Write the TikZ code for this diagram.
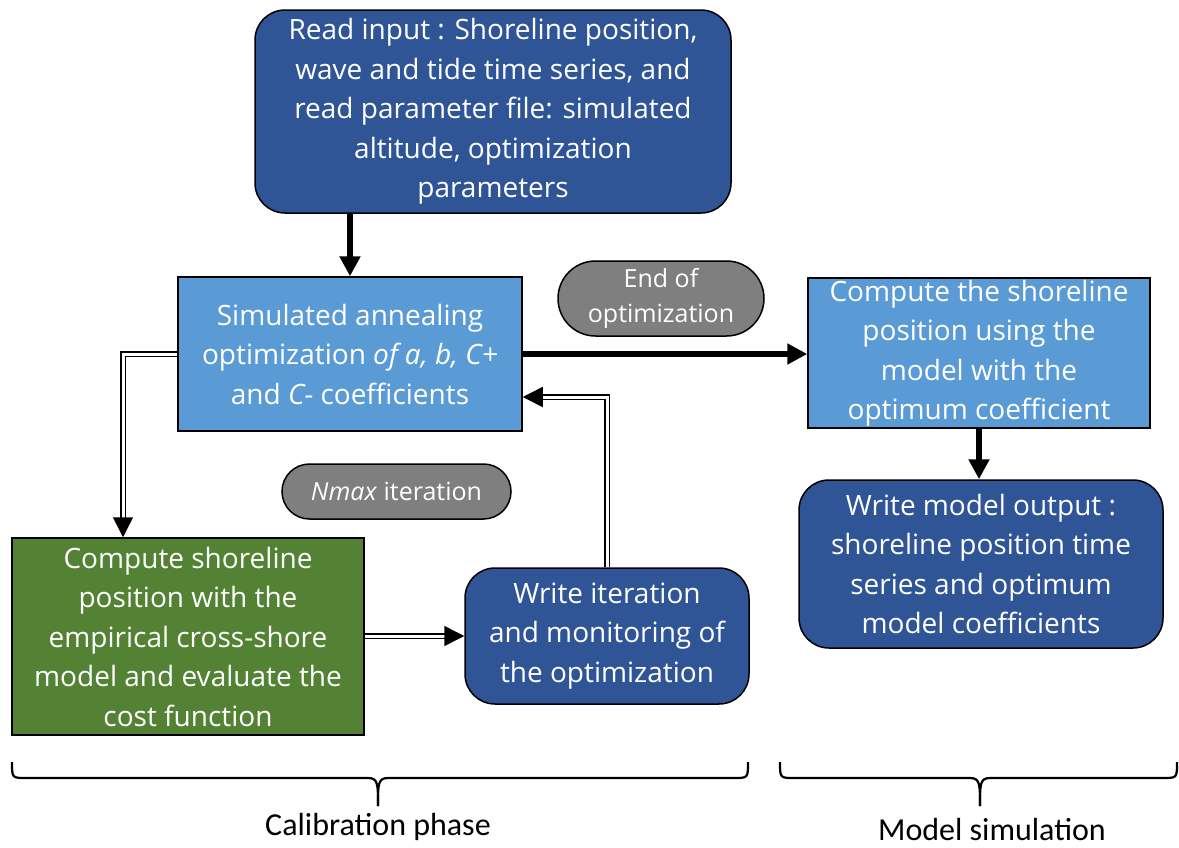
\documentclass[tikz,border=0pt]{standalone}
\usepackage{fontspec}
\setmainfont{Open Sans}
\newfontfamily\labelfont{Carlito}
\usetikzlibrary{positioning,arrows.meta,calc,shapes.misc}
\definecolor{fcdark}{HTML}{2F5597}
\definecolor{fclight}{HTML}{5B9BD5}
\definecolor{fcgreen}{HTML}{548235}
\definecolor{fcgray}{HTML}{7F7F7F}
\tikzset{
  box/.style={draw=black,line width=0.75pt,text=white,align=center,inner sep=0pt,
    font=\fontsize{14pt}{19.75pt}\selectfont},
  darkbox/.style={box,fill=fcdark,rounded corners=15pt},
  lightbox/.style={box,fill=fclight},
  greenbox/.style={box,fill=fcgreen},
  pill/.style={draw=black,line width=0.75pt,fill=fcgray,text=white,align=center,
    inner sep=0pt,rounded rectangle,font=\fontsize{12.5pt}{17.5pt}\selectfont},
  fatarrow/.style={line width=3pt,-{Triangle[length=10pt,width=10pt]}},
  dblarrow/.style={line width=0.75pt,double=white,double distance=1.5pt,
    -{Triangle[length=10pt,width=10pt]}},
  phase/.style={line width=1.1pt},
  phaselabel/.style={font=\labelfont\fontsize{16pt}{19pt}\selectfont}
}
\begin{document}
\begin{tikzpicture}[x=0.5pt,y=-0.5pt]
  \useasboundingbox (0,0) rectangle (1179,847);
  % boxes
  \node[darkbox,minimum width=238pt,minimum height=101.5pt] (readin) at (493,111.5)
    {Read input : Shoreline position,\\ wave and tide time series, and\\ read parameter file: simulated\\ altitude, optimization\\ parameters};
  \node[lightbox,minimum width=172pt,minimum height=77pt] (anneal) at (350,354)
    {Simulated annealing\\ optimization \textit{of a, b, C+}\\ and \textit{C-} coefficients};
  \node[lightbox,minimum width=171pt,minimum height=75pt] (simcomp) at (979,353)
    {Compute the shoreline\\ position using the\\ model with the\\ optimum coefficient};
  \node[darkbox,minimum width=182pt,minimum height=84pt] (output) at (981,564)
    {Write model output :\\ shoreline position time\\ series and optimum\\ model coefficients};
  \node[greenbox,minimum width=176pt,minimum height=98.5pt] (costfn) at (188,636.5)
    {Compute shoreline\\ position with the\\ empirical cross-shore\\ model and evaluate the\\ cost function};
  \node[darkbox,minimum width=142pt,minimum height=68pt] (monitor) at (607,636)
    {Write iteration\\ and monitoring of\\ the optimization};
  % pills
  \node[pill,minimum width=103pt,minimum height=37.5pt] (endopt) at (661,298.5)
    {End of\\ optimization};
  \node[pill,minimum width=114.5pt,minimum height=27.5pt] (nmax) at (396.5,491.5)
    {\textit{Nmax} iteration};
  % connectors
  \draw[fatarrow] (readin.south -| anneal.north) -- (anneal.north);
  \draw[fatarrow] (anneal.east) -- (simcomp.west |- anneal.east);
  \draw[fatarrow] (simcomp.south) -- (output.north -| simcomp.south);
  \draw[dblarrow] (anneal.west) -| ($(costfn.north)+(-65,0)$);
  \draw[dblarrow] (costfn.east |- monitor.west) -- (monitor.west);
  \draw[dblarrow] (monitor.north) |- ($(anneal.east)+(0,43)$);
  % phases
  \coordinate (calA) at (12,762);
  \coordinate (calB) at (748,762);
  \coordinate (calT) at (378,806);
  \coordinate (simA) at (780,762);
  \coordinate (simB) at (1177,762);
  \coordinate (simT) at (980,806);
  \draw[phase] (calA) .. controls (12,778) .. (26,778) -- (368,778)
    .. controls (378,778) and (378,784) .. (calT);
  \draw[phase] (calB) .. controls (748,778) .. (734,778) -- (388,778)
    .. controls (378,778) and (378,784) .. (calT);
  \draw[phase] (simA) .. controls (780,778) .. (794,778) -- (970,778)
    .. controls (980,778) and (980,784) .. (simT);
  \draw[phase] (simB) .. controls (1177,778) .. (1163,778) -- (990,778)
    .. controls (980,778) and (980,784) .. (simT);
  \node[phaselabel] (callabel) at (378,827) {Calibration phase};
  \node[phaselabel] (simlabel) at (992,829) {Model simulation};
\end{tikzpicture}
\end{document}
